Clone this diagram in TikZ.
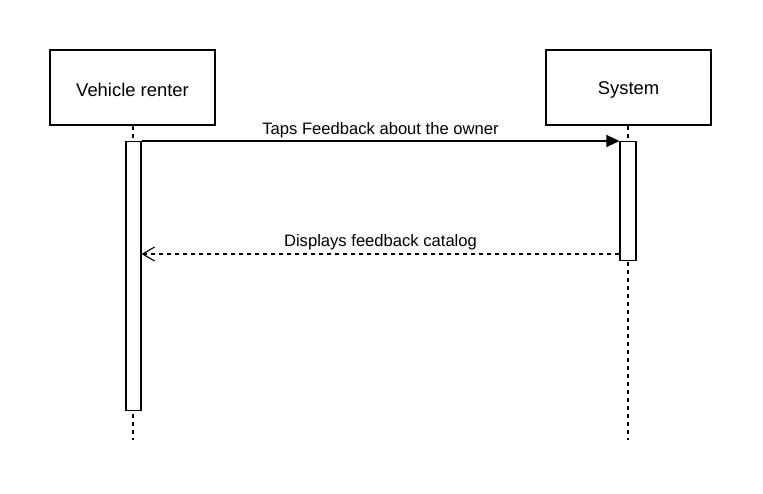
\documentclass[tikz,border=0pt]{standalone}
\usepackage{fontspec}
\setmainfont{Liberation Sans}
\usetikzlibrary{arrows.meta}
\begin{document}
\begin{tikzpicture}[x=1pt,y=-1pt,
  head/.style={draw=black,line width=1.1pt,fill=white,minimum width=165pt,minimum height=75pt,inner sep=0pt},
  headtxt/.style={inner sep=0pt,font=\fontsize{18.4}{22}\selectfont},
  act/.style={draw=black,line width=1.1pt,fill=white},
  life/.style={draw=black,line width=1.1pt,dash pattern=on 4pt off 4pt},
  msg/.style={draw=black,line width=1.1pt},
  lbl/.style={font=\fontsize{16.6}{20}\selectfont,inner sep=0pt}]
\useasboundingbox (0,0) rectangle (763,493);
\fill[white] (0,0) rectangle (763,493);
% heads
\node[head] (renter) at (132.5,87.5) {};
\node[head] (system) at (628.5,87.5) {};
\node[headtxt] (rentertxt) at ([yshift=-2pt]renter.center) {Vehicle renter};
\node[headtxt] (systemtxt) at ([yshift=-2pt]system.center) {System};
% lifelines
\coordinate (rend) at (133,440);
\coordinate (send) at (628,440);
\draw[life] (renter.south -| rend) -- (rend);
\draw[life] (system.south -| send) -- (send);
% activations
\node[act,minimum width=15pt,minimum height=269pt,inner sep=0pt,anchor=north] (ra) at (133.5,141) {};
\node[act,minimum width=16pt,minimum height=119pt,inner sep=0pt,anchor=north] (sa) at (628,141) {};
% messages
\draw[msg,-{Triangle[length=13pt,width=12pt]}] (ra.north east) -- (sa.north west)
  node[lbl,midway,above=3pt] (m1) {Taps Feedback about the owner};
\coordinate (s2) at (sa.west |- 0,254);
\coordinate (r2) at (ra.east |- 0,254);
\draw[msg,dashed,dash pattern=on 4pt off 4pt,-{Straight Barb[length=12pt,width=14pt]}] (s2) -- (r2)
  node[lbl,midway,above=4pt] (m2) {Displays feedback catalog};
\end{tikzpicture}
\end{document}
